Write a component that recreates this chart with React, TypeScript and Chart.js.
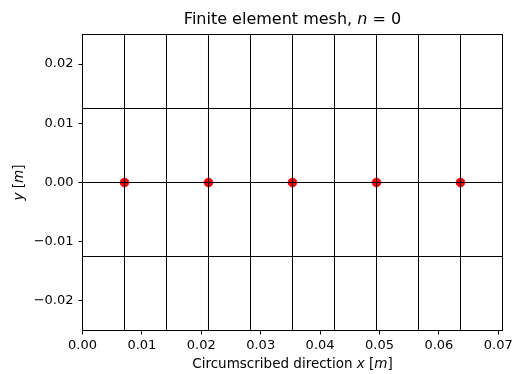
import React, { useEffect, useRef } from "react";
import { Chart, registerables } from "chart.js";

Chart.register(...registerables);

const meshX = [0, 0.0070711, 0.0141421, 0.0212132, 0.0282843, 0.0353553, 0.0424264, 0.0494975, 0.0565685, 0.0636396, 0.0707107];
const meshY = [-0.025, -0.0125, 0, 0.0125, 0.025];
const nodeX = [0.0070711, 0.0212132, 0.0353553, 0.0494975, 0.0636396];
const nodeY = [0, 0, 0, 0, 0];
const xTicks = [0, 0.01, 0.02, 0.03, 0.04, 0.05, 0.06, 0.07];
const yTicks = [-0.02, -0.01, 0, 0.01, 0.02];
const xMin = 0;
const xMax = 0.0707107;
const yMin = -0.025;
const yMax = 0.025;

const FONT = "'DejaVu Sans', sans-serif";

type Seg = { t: string; italic?: boolean };

function drawMixed(ctx: CanvasRenderingContext2D, segs: Seg[], size: number, x: number, y: number) {
  const fontFor = (s: Seg) => `${s.italic ? "italic " : ""}${size}px ${FONT}`;
  let total = 0;
  const widths = segs.map((s) => {
    ctx.font = fontFor(s);
    const w = ctx.measureText(s.t).width;
    total += w;
    return w;
  });
  let cx = x - total / 2;
  ctx.textAlign = "left";
  ctx.textBaseline = "alphabetic";
  segs.forEach((s, i) => {
    ctx.font = fontFor(s);
    ctx.fillText(s.t, cx, y);
    cx += widths[i];
  });
}

const fmt = (v: number) => {
  const s = Math.abs(v) < 1e-12 ? "0.00" : v.toFixed(2);
  return s.replace("-", "\u2212");
};

const textPlugin = {
  id: "customText",
  afterDatasetsDraw(chart: any) {
    const { ctx, chartArea } = chart;
    ctx.save();
    ctx.strokeStyle = "#000";
    ctx.lineWidth = 1;
    ctx.strokeRect(chartArea.left, chartArea.top, chartArea.right - chartArea.left, chartArea.bottom - chartArea.top);
    ctx.restore();
  },
  afterDraw(chart: any) {
    const { ctx, chartArea } = chart;
    const cx = (chartArea.left + chartArea.right) / 2;
    const cy = (chartArea.top + chartArea.bottom) / 2;
    ctx.save();
    ctx.fillStyle = "#000";
    drawMixed(ctx, [{ t: "Finite element mesh, " }, { t: "n", italic: true }, { t: " = 0" }], 16, cx, 24);
    drawMixed(ctx, [{ t: "Circumscribed direction " }, { t: "x", italic: true }, { t: " [" }, { t: "m", italic: true }, { t: "]" }], 13.5, cx, 368);
    ctx.translate(23, cy);
    ctx.rotate(-Math.PI / 2);
    drawMixed(ctx, [{ t: "y", italic: true }, { t: " [" }, { t: "m", italic: true }, { t: "]" }], 13.5, 0, 0);
    ctx.restore();
  },
};

export default function App() {
  const ref = useRef<HTMLCanvasElement>(null);
  useEffect(() => {
    document.body.style.margin = "0";
    const datasets: any[] = [];
    meshX.forEach((x) => {
      datasets.push({
        data: [{ x, y: yMin }, { x, y: yMax }],
        showLine: true,
        borderColor: "#000",
        borderWidth: 1,
        pointRadius: 0,
        clip: 2,
        order: 0,
      });
    });
    meshY.forEach((y) => {
      datasets.push({
        data: [{ x: xMin, y }, { x: xMax, y }],
        showLine: true,
        borderColor: "#000",
        borderWidth: 1,
        pointRadius: 0,
        clip: 2,
        order: 0,
      });
    });
    datasets.push({
      data: nodeX.map((x, i) => ({ x, y: nodeY[i] })),
      showLine: false,
      pointRadius: 4.5,
      pointBackgroundColor: "#ff0000",
      pointBorderColor: "#e00000",
      pointBorderWidth: 0.5,
      clip: false,
      order: 1,
    });
    const chart = new Chart(ref.current!, {
      type: "scatter",
      data: { datasets },
      options: {
        animation: false,
        responsive: false,
        devicePixelRatio: 1,
        layout: { padding: { top: 34.5, right: 10.5, left: 0, bottom: 0 } },
        plugins: { legend: { display: false }, tooltip: { enabled: false }, title: { display: false } },
        scales: {
          x: {
            type: "linear",
            min: xMin,
            max: xMax,
            afterBuildTicks: (s: any) => {
              s.ticks = xTicks.map((v) => ({ value: v }));
            },
            afterFit: (s: any) => {
              s.height = 43.5;
              s.paddingRight = 0;
              s.paddingLeft = 0;
            },
            grid: { display: true, drawOnChartArea: false, drawTicks: true, tickLength: 4, color: "#000", tickWidth: 1 },
            border: { display: true, color: "#000", width: 1 },
            ticks: { color: "#000", font: { family: FONT, size: 13 }, padding: 3, maxRotation: 0, autoSkip: false, callback: (v: any) => fmt(Number(v)) },
          },
          y: {
            type: "linear",
            min: yMin,
            max: yMax,
            afterBuildTicks: (s: any) => {
              s.ticks = yTicks.map((v) => ({ value: v }));
            },
            afterFit: (s: any) => {
              s.width = 82.5;
              s.paddingTop = 0;
              s.paddingBottom = 0;
            },
            grid: { display: true, drawOnChartArea: false, drawTicks: true, tickLength: 4, color: "#000", tickWidth: 1 },
            border: { display: true, color: "#000", width: 1 },
            ticks: { color: "#000", font: { family: FONT, size: 13 }, padding: 5, autoSkip: false, callback: (v: any) => fmt(Number(v)) },
          },
        },
      },
      plugins: [textPlugin],
    });
    return () => chart.destroy();
  }, []);
  return (
    <div style={{ position: "absolute", left: 0, top: 0, width: 513, height: 374, background: "#fff" }}>
      <canvas ref={ref} width={513} height={374} style={{ width: 513, height: 374, display: "block" }} />
    </div>
  );
}
